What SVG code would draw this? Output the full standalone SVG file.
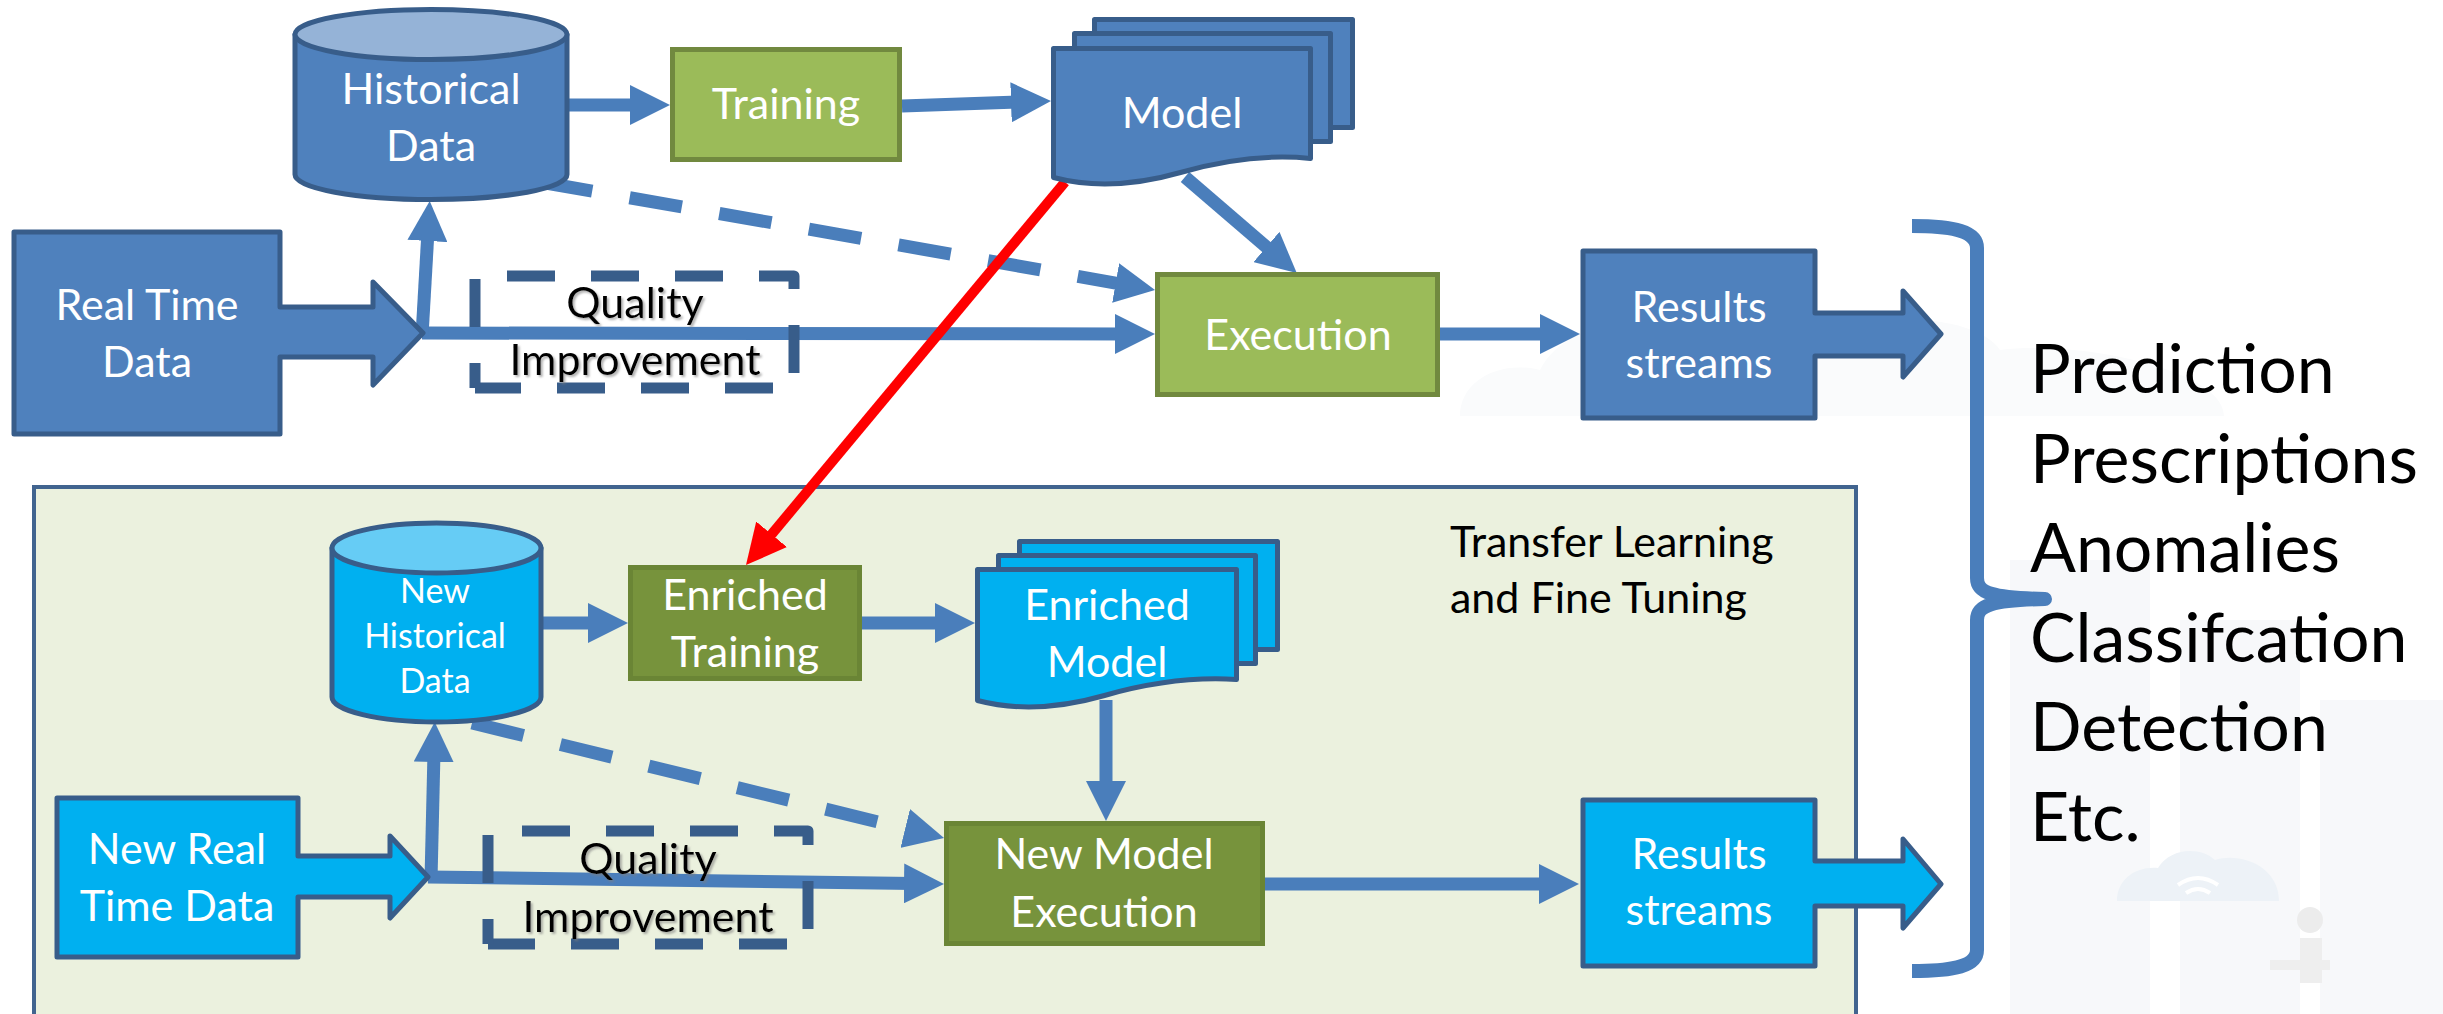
<svg xmlns="http://www.w3.org/2000/svg" width="2443" height="1014" viewBox="0 0 2443 1014">
<defs>
<style>
.t{font-family:Lato,"Liberation Sans",sans-serif;text-anchor:middle;font-size:43px}
.w{fill:#ffffff}
.k{fill:#000000}
.s34{font-size:34px}
.big{font-family:Lato,"Liberation Sans",sans-serif;font-size:68px;fill:#000000}
.blue{fill:#4F81BD;stroke:#385D8A;stroke-width:5;stroke-linejoin:round}
.lblue{fill:#95B3D7;stroke:#385D8A;stroke-width:5}
.cyan{fill:#00B0F0;stroke:#385D8A;stroke-width:5;stroke-linejoin:round}
.lcyan{fill:#66CCF5;stroke:#385D8A;stroke-width:5}
.green{fill:#9BBB59;stroke:#71893F;stroke-width:5}
.dgreen{fill:#77933C;stroke:#6A8535;stroke-width:5}
.conn{fill:none;stroke:#4A7EBB;stroke-width:13}
.dash{stroke-dasharray:53 38}
.red{fill:none;stroke:#FF0000;stroke-width:10}
.qb{fill:none;stroke:#385D8A;stroke-width:11;stroke-dasharray:48 36;stroke-linejoin:round}
.bg{fill:#F7F8FA}
</style>
<marker id="ah" viewBox="0 0 40 40" markerWidth="40" markerHeight="40" refX="10" refY="20" orient="auto" markerUnits="userSpaceOnUse"><path d="M0,0L40,20L0,40Z" fill="#4A7EBB"/></marker>
<marker id="ahr" viewBox="0 0 40 40" markerWidth="40" markerHeight="40" refX="10" refY="20" orient="auto" markerUnits="userSpaceOnUse"><path d="M0,0L40,20L0,40Z" fill="#FF0000"/></marker>
<filter id="sh" x="-10%" y="-10%" width="120%" height="130%"><feDropShadow dx="2" dy="2" stdDeviation="1.2" flood-color="#7f7f7f" flood-opacity="0.6"/></filter>
</defs>
<rect width="2443" height="1014" fill="#ffffff"/>
<g id="background">
<path d="M1460,416 C1460,380 1500,360 1540,370 C1560,330 1620,313 1680,330 C1720,300 1800,300 1840,330 C1900,310 1980,320 2000,350 C2080,340 2224,370 2224,416 Z" fill="#FAFBFC"/>
<rect class="bg" x="2010" y="560" width="140" height="454"/>
<rect class="bg" x="2180" y="620" width="120" height="394"/>
<rect class="bg" x="2320" y="700" width="123" height="314"/>
<path d="M2117,901 C2117,880 2135,866 2158,868 C2170,848 2200,846 2215,860 C2240,852 2279,866 2279,901 Z" fill="#EDF2F7"/>
<path d="M2178,885 q20,-14 40,0 M2186,893 q12,-8 24,0" fill="none" stroke="#ffffff" stroke-width="4"/>
<circle cx="2310" cy="920" r="13" fill="#ECECEC"/>
<path d="M2300,938 h22 v45 h-22 z M2270,960 h60 v10 h-60 z" fill="#EEEEEE"/>
</g>
<g id="panel">
<rect x="34" y="487" width="1822" height="545" fill="#EBF1DE" stroke="#41648F" stroke-width="4"/>
<text class="t k" x="1450" y="557" style="text-anchor:start">Transfer Learning</text>
<text class="t k" x="1450" y="613" style="text-anchor:start">and Fine Tuning</text>
</g>
<g id="connectors">
<path class="conn" d="M567,105 L640,105" marker-end="url(#ah)"/>
<path class="conn" d="M902,106 L1021,102" marker-end="url(#ah)"/>
<path class="conn" d="M1185,177 L1274,253.5" marker-end="url(#ah)"/>
<path class="conn" d="M1440,334 L1550,334" marker-end="url(#ah)"/>
<path class="conn" d="M422,333 L1125,334" marker-end="url(#ah)"/>
<path class="conn" d="M422,336 L428,231" marker-end="url(#ah)"/>
<path class="conn dash" d="M540,182 L1125.5,284.8" marker-end="url(#ah)"/>
<path class="conn" d="M539,623 L598,623" marker-end="url(#ah)"/>
<path class="conn" d="M862,623 L945,623" marker-end="url(#ah)"/>
<path class="conn" d="M1106,700 L1106,791" marker-end="url(#ah)"/>
<path class="conn" d="M1265,884 L1549,884" marker-end="url(#ah)"/>
<path class="conn" d="M431,880 L434,752" marker-end="url(#ah)"/>
<path class="conn" d="M428,877 L914,883.6" marker-end="url(#ah)"/>
<path class="conn dash" d="M472,723 L914.9,830.9" marker-end="url(#ah)"/>
<path class="red" d="M1065,182 L765.2,542" marker-end="url(#ahr)"/>
<path id="brace" d="M1912,226 C1955,226 1977,232 1977,248 L1977,578 C1977,593 1992,598 2045,599 C1992,600 1977,605 1977,620 L1977,950 C1977,966 1955,971 1912,971" fill="none" stroke="#4A7EBB" stroke-width="14" stroke-linejoin="round"/>
</g>
<g id="historical-data">
<path class="blue" d="M295,34.5 L295,174.5 A136,25 0 0 0 567,174.5 L567,34.5 Z"/>
<ellipse class="lblue" cx="431" cy="34.5" rx="136" ry="25"/>
<text class="t w" x="431" y="104">Historical</text>
<text class="t w" x="431" y="161">Data</text>
</g>
<g id="training">
<rect class="green" x="672.5" y="49.5" width="227" height="110"/>
<text class="t w" x="786" y="119">Training</text>
</g>
<g id="model">
<rect class="blue" x="1094.5" y="19.5" width="258" height="108"/>
<rect class="blue" x="1074.5" y="33.5" width="256" height="108"/>
<path class="blue" d="M1053.5,48.5 L1053.5,177.5 Q1110.5,192.5 1180.5,172.5 T1310.5,158.5 L1310.5,48.5 Z"/>
<text class="t w" x="1182" y="128">Model</text>
</g>
<g id="real-time-data">
<path class="blue" d="M14,232 L280,232 L280,307 L373,307 L373,282 L423,333 L373,385 L373,357 L280,357 L280,434 L14,434 Z"/>
<text class="t w" x="147" y="320">Real Time</text>
<text class="t w" x="147" y="377">Data</text>
</g>
<g id="quality-improvement">
<path class="qb" d="M475,276 H794 V388 H475" stroke-dashoffset="52"/>
<path class="qb" d="M475,388 V276" stroke-dashoffset="23"/>
<text class="t k" x="635" y="318" filter="url(#sh)">Quality</text>
<text class="t k" x="635" y="375" filter="url(#sh)">Improvement</text>
</g>
<g id="execution">
<rect class="green" x="1157.5" y="274.5" width="280" height="120"/>
<text class="t w" x="1298" y="350">Execution</text>
</g>
<g id="results-streams">
<path class="blue" d="M1583,251 L1815,251 L1815,313 L1903,313 L1903,291 L1941,334 L1903,377 L1903,356 L1815,356 L1815,418 L1583,418 Z"/>
<text class="t w" x="1699" y="322">Results</text>
<text class="t w" x="1699" y="378">streams</text>
</g>
<g id="new-historical-data">
<path class="cyan" d="M332,548 L332,697 A104.5,25 0 0 0 541,697 L541,548 Z"/>
<ellipse class="lcyan" cx="436.5" cy="548" rx="104.5" ry="25"/>
<text class="t w s34" x="435" y="603">New</text>
<text class="t w s34" x="435" y="648">Historical</text>
<text class="t w s34" x="435" y="693">Data</text>
</g>
<g id="enriched-training">
<rect class="dgreen" x="630.5" y="567.5" width="229" height="111"/>
<text class="t w" x="745" y="610">Enriched</text>
<text class="t w" x="745" y="667">Training</text>
</g>
<g id="enriched-model">
<rect class="cyan" x="1019.5" y="541.5" width="258" height="108"/>
<rect class="cyan" x="998.5" y="555.5" width="257" height="108"/>
<path class="cyan" d="M977.5,569.5 L977.5,700.5 Q1034.5,715.5 1104.5,695.5 T1236.5,679.5 L1236.5,569.5 Z"/>
<text class="t w" x="1107" y="620">Enriched</text>
<text class="t w" x="1107" y="677">Model</text>
</g>
<g id="new-real-time-data">
<path class="cyan" d="M57,798 L298,798 L298,856 L390,856 L390,836 L428,877 L390,918 L390,897 L298,897 L298,957 L57,957 Z"/>
<text class="t w" x="177" y="864">New Real</text>
<text class="t w" x="177" y="921">Time Data</text>
</g>
<g id="quality-improvement-2">
<path class="qb" d="M488,831 H808 V944 H488" stroke-dashoffset="50"/>
<path class="qb" d="M488,944 V831" stroke-dashoffset="23"/>
<text class="t k" x="648" y="874" filter="url(#sh)">Quality</text>
<text class="t k" x="648" y="932" filter="url(#sh)">Improvement</text>
</g>
<g id="new-model-execution">
<rect class="dgreen" x="946.5" y="823.5" width="316" height="120"/>
<text class="t w" x="1104" y="869">New Model</text>
<text class="t w" x="1104" y="927">Execution</text>
</g>
<g id="results-streams-2">
<path class="cyan" d="M1583,800 L1815,800 L1815,861 L1903,861 L1903,839 L1941,884 L1903,928 L1903,906 L1815,906 L1815,966 L1583,966 Z"/>
<text class="t w" x="1699" y="869">Results</text>
<text class="t w" x="1699" y="925">streams</text>
</g>
<g id="outcomes">
<text class="big" x="2030" y="393">Prediction</text>
<text class="big" x="2030" y="483">Prescriptions</text>
<text class="big" x="2030" y="572">Anomalies</text>
<text class="big" x="2030" y="662">Classifcation</text>
<text class="big" x="2030" y="751">Detection</text>
<text class="big" x="2030" y="841">Etc.</text>
</g>
</svg>
